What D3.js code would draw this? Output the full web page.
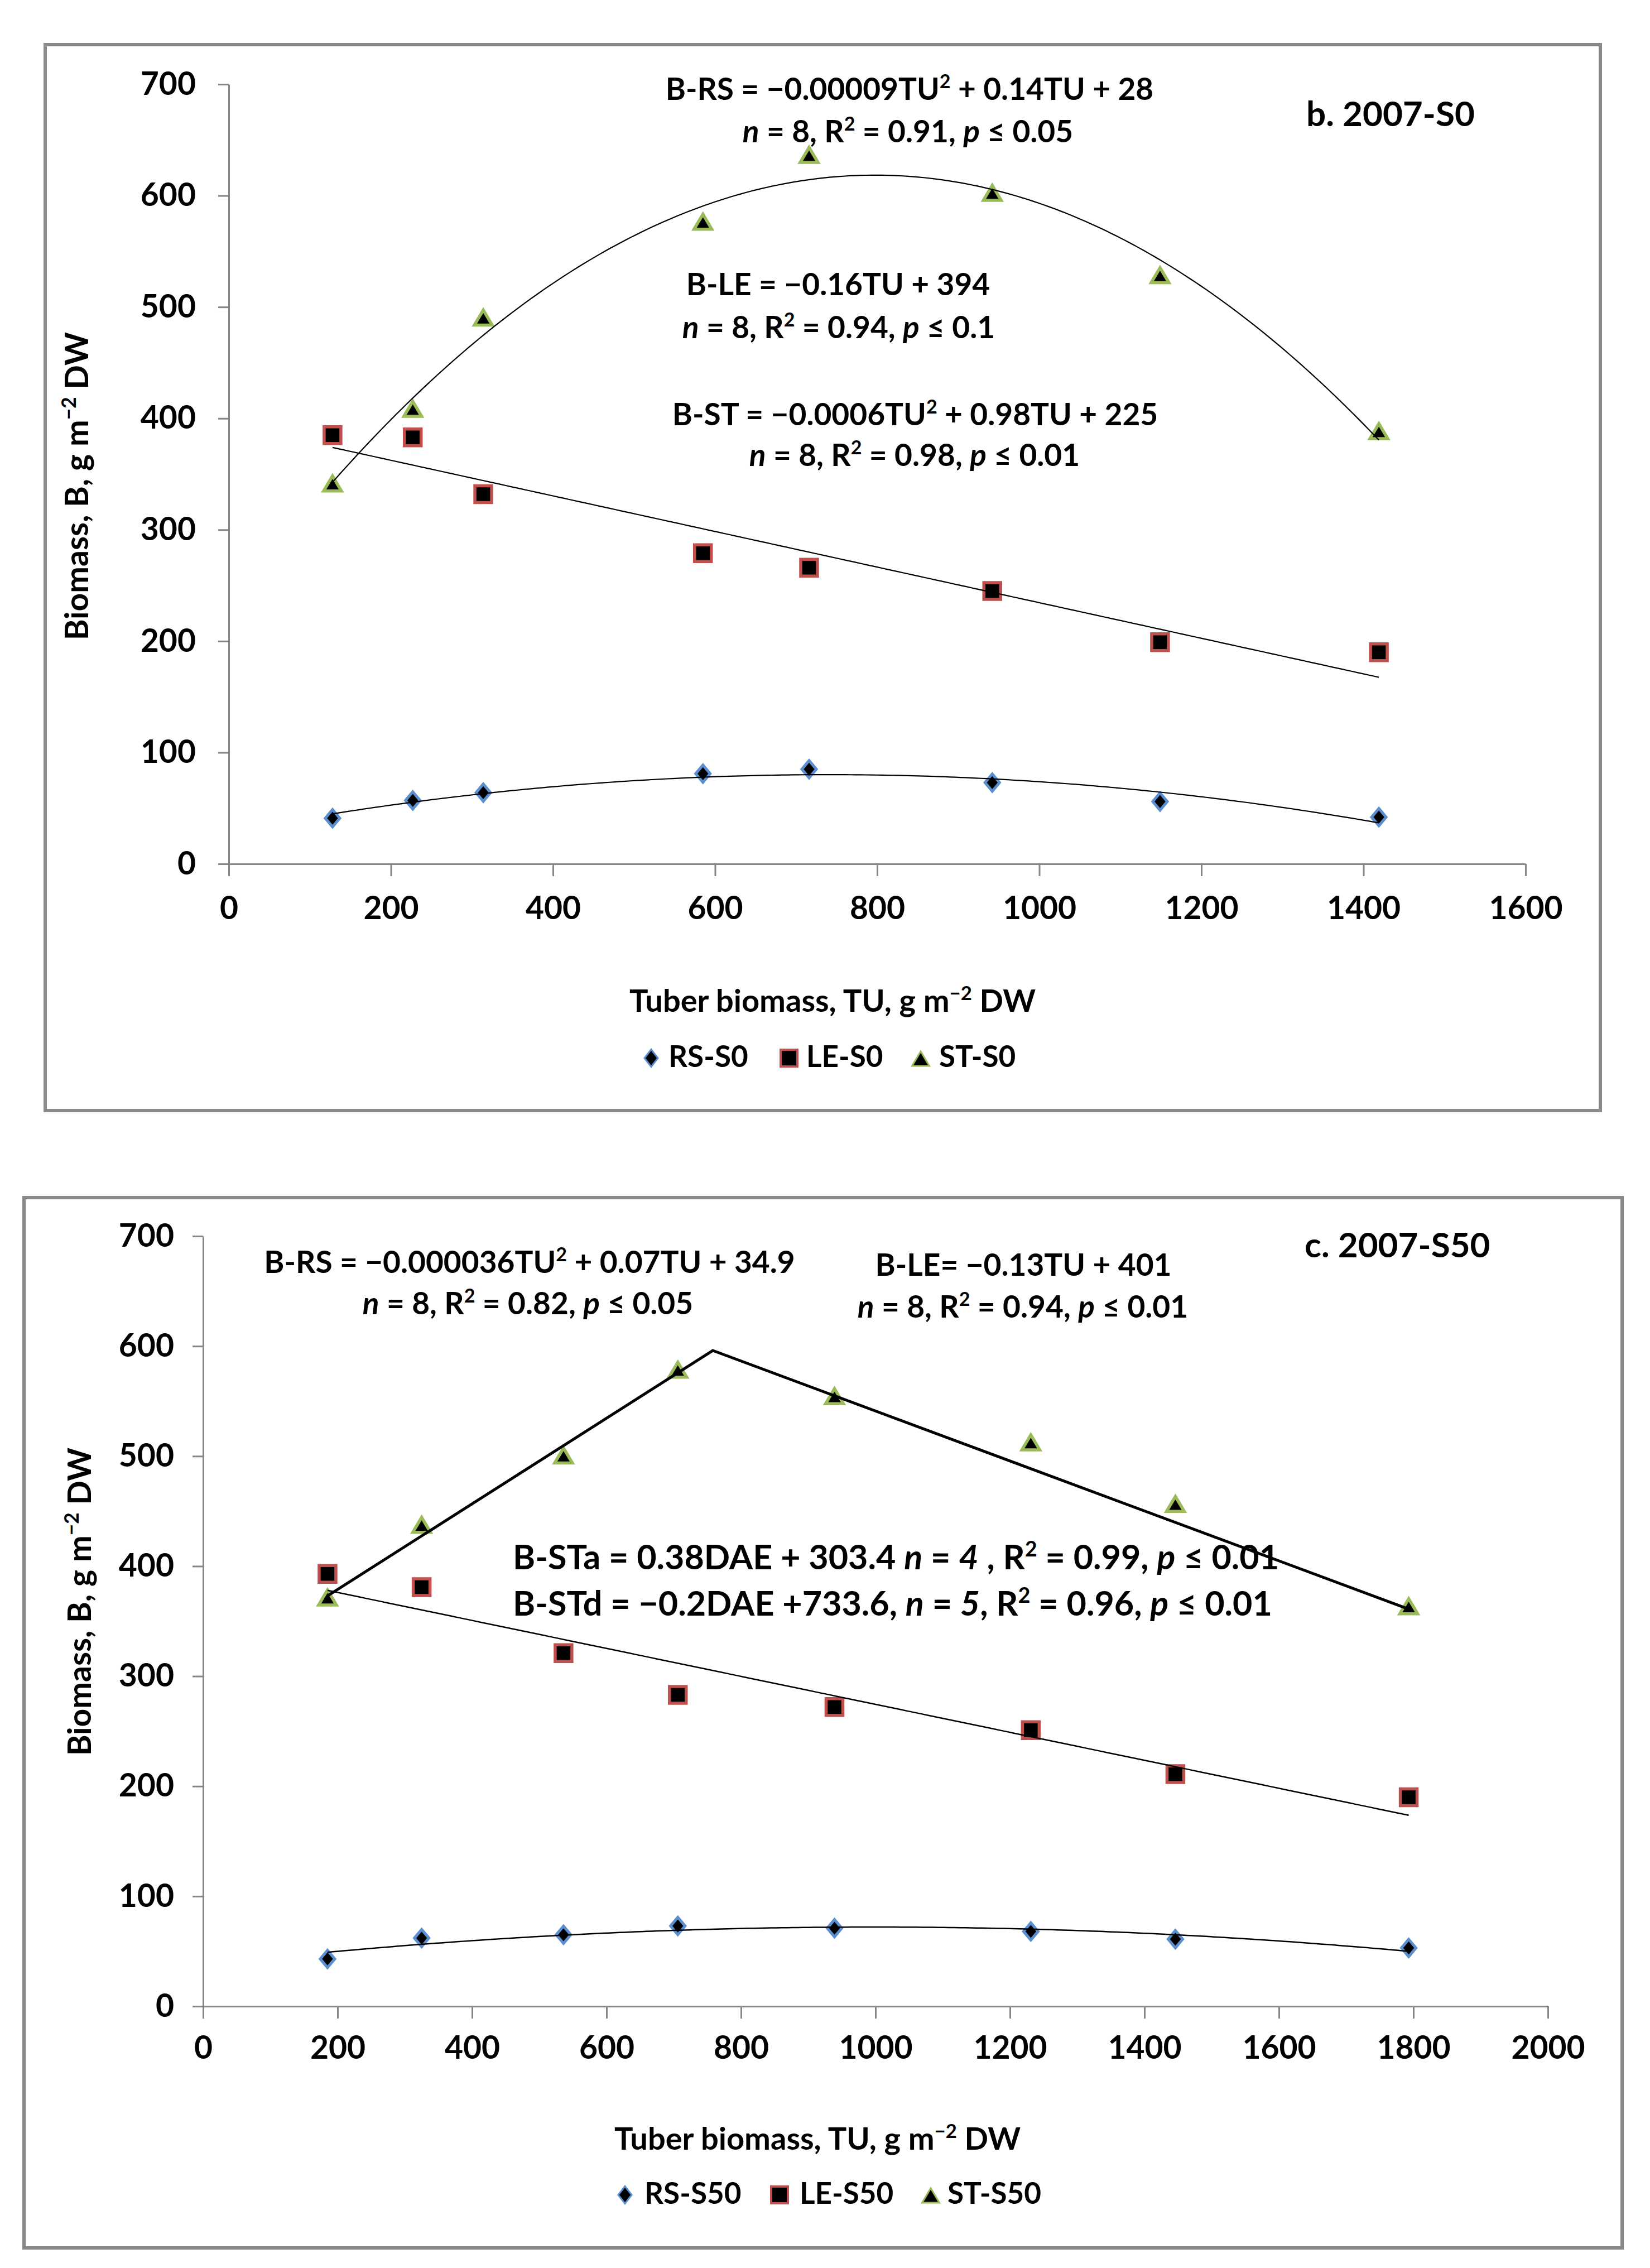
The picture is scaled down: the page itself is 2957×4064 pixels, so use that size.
<!DOCTYPE html>
<html><head><meta charset="utf-8">
<script src="https://cdn.jsdelivr.net/npm/d3@7"></script>
<style>
body{margin:0;background:#fff}
svg{display:block}
text{font-family:Lato,'Liberation Sans',sans-serif;font-weight:bold;fill:#000;white-space:pre}
</style>
</head><body>
<svg id="c" width="2957" height="4064"></svg>
<script>
// ---------------- data ----------------
// panel b. 2007-S0
const tuS0 = [128, 227, 314, 585, 716, 942, 1149, 1419];
const rsS0 = [41, 57, 64, 81, 85, 73, 56, 42];
const leS0 = [385, 383, 332, 279, 266, 245, 199, 190];
const stS0 = [341, 408, 490, 576, 636, 602, 528, 388];
// panel c. 2007-S50
const tuS50 = [185, 325, 536, 706, 939, 1231, 1446, 1793];
const rsS50 = [43, 62, 65, 73, 71, 68, 61, 53];
const leS50 = [393, 381, 321, 283, 272, 251, 211, 190];
const stS50 = [371, 437, 500, 578, 554, 512, 456, 363];
// two-phase (ascending / descending) line for ST-S50
const stS50LineTU = [185, 758, 1793];
const stS50LineB = [373, 596, 361];
// ticks
const yTicks = [0, 100, 200, 300, 400, 500, 600, 700];
const xTicksS0 = [0, 200, 400, 600, 800, 1000, 1200, 1400, 1600];
const xTicksS50 = [0, 200, 400, 600, 800, 1000, 1200, 1400, 1600, 1800, 2000];
// legend labels
const legendS0 = ["RS-S0", "LE-S0", "ST-S0"];
const legendS50 = ["RS-S50", "LE-S50", "ST-S50"];
// texts
const yTitle = "Biomass, B, g m{s:−2} DW";
const xTitle = "Tuber biomass, TU, g m{s:−2} DW";
const panelLabelS0 = "b. 2007-S0";
const panelLabelS50 = "c. 2007-S50";
const eqS0 = [
  "B-RS = −0.00009TU{s:2} + 0.14TU + 28",
  "{i:n} = 8, R{s:2} = 0.91, {i:p} ≤ 0.05",
  "B-LE = −0.16TU + 394",
  "{i:n} = 8, R{s:2} = 0.94, {i:p} ≤ 0.1",
  "B-ST = −0.0006TU{s:2} + 0.98TU + 225",
  "{i:n} = 8, R{s:2} = 0.98, {i:p} ≤ 0.01"
];
const eqS50 = [
  "B-RS = −0.000036TU{s:2} + 0.07TU + 34.9",
  "{i:n} = 8, R{s:2} = 0.82, {i:p} ≤ 0.05",
  "B-LE= −0.13TU + 401",
  "{i:n} = 8, R{s:2} = 0.94, {i:p} ≤ 0.01",
  "B-STa = 0.38DAE + 303.4 {i:n} = {i:4} , R{s:2} = 0.99, {i:p} ≤ 0.01",
  "B-STd = −0.2DAE +733.6, {i:n} = {i:5}, R{s:2} = 0.96, {i:p} ≤ 0.01"
];

// ---------------- helpers ----------------
const svg = d3.select('#c');
svg.append('rect').attr('width', 2957).attr('height', 4064).attr('fill', '#fff');

function parse(str) {
  const parts = []; const re = /\{([is]):([^}]*)\}/g; let last = 0, m;
  while ((m = re.exec(str))) {
    if (m.index > last) parts.push({ t: str.slice(last, m.index) });
    parts.push({ t: m[2], sup: m[1] === 's', i: m[1] === 'i' });
    last = re.lastIndex;
  }
  if (last < str.length) parts.push({ t: str.slice(last) });
  return parts;
}
function rich(g, x, y, str, fs, anchor, transform) {
  const t = g.append('text').attr('x', x).attr('y', y).attr('font-size', fs)
    .attr('text-anchor', anchor || 'middle');
  if (transform) t.attr('transform', transform);
  let shifted = false;
  parse(str).forEach(p => {
    const s = t.append('tspan').text(p.t);
    if (p.sup) { s.attr('dy', -fs * 0.38).attr('font-size', fs * 0.62); shifted = true; }
    else if (shifted) { s.attr('dy', fs * 0.38); shifted = false; }
    if (p.i) s.attr('font-style', 'italic');
  });
  return t;
}
function fit(xs, ys, deg) {
  const n = deg + 1;
  const A = Array.from({ length: n }, () => new Array(n + 1).fill(0));
  xs.forEach((xv, k) => {
    for (let r = 0; r < n; r++) {
      for (let c = 0; c < n; c++) A[r][c] += Math.pow(xv, r + c);
      A[r][n] += ys[k] * Math.pow(xv, r);
    }
  });
  for (let i = 0; i < n; i++) {
    let p = i; for (let r = i + 1; r < n; r++) if (Math.abs(A[r][i]) > Math.abs(A[p][i])) p = r;
    [A[i], A[p]] = [A[p], A[i]];
    for (let r = 0; r < n; r++) if (r !== i) {
      const f = A[r][i] / A[i][i];
      for (let c = i; c <= n; c++) A[r][c] -= f * A[i][c];
    }
  }
  const coef = A.map((row, i) => row[n] / row[i]);
  return xv => coef.reduce((s, c, i) => s + c * Math.pow(xv, i), 0);
}
const markerPath = {
  diamond: (w, h) => `M0,${-h}L${w},0L0,${h}L${-w},0Z`,
  square: (s) => `M${-s},${-s}H${s}V${s}H${-s}Z`,
  triangle: (s) => `M0,${-s * 1.0}L${s * 1.1},${s * 0.85}L${-s * 1.1},${s * 0.85}Z`
};
function marker(g, type, cx, cy) {
  if (type === 'rs') g.append('path').attr('d', markerPath.diamond(13, 15.5))
    .attr('transform', `translate(${cx},${cy})`).attr('fill', '#000').attr('stroke', '#5b8fd0').attr('stroke-width', 5).attr('stroke-linejoin', 'miter');
  if (type === 'le') g.append('path').attr('d', markerPath.square(15))
    .attr('transform', `translate(${cx},${cy})`).attr('fill', '#000').attr('stroke', '#c0504d').attr('stroke-width', 5.5);
  if (type === 'st') g.append('path').attr('d', markerPath.triangle(14.5))
    .attr('transform', `translate(${cx},${cy})`).attr('fill', '#000').attr('stroke', '#9bbb59').attr('stroke-width', 5.5).attr('stroke-linejoin', 'miter');
}

function panel(cfg) {
  const g = svg.append('g');
  const [fx0, fy0, fx1, fy1] = cfg.frame;
  g.append('rect').attr('x', fx0).attr('y', fy0).attr('width', fx1 - fx0).attr('height', fy1 - fy0)
    .attr('fill', '#fff').attr('stroke', '#898989').attr('stroke-width', 6);
  const x = d3.scaleLinear().domain([0, cfg.xMax]).range(cfg.xr);
  const y = d3.scaleLinear().domain([0, 700]).range(cfg.yr);

  const ya = g.append('g').attr('transform', `translate(${cfg.xr[0]},0)`)
    .call(d3.axisLeft(y).tickValues(yTicks).tickFormat(d3.format('d')).tickSize(19).tickSizeOuter(0).tickPadding(cfg.yPad));
  const xa = g.append('g').attr('transform', `translate(0,${cfg.yr[0]})`)
    .call(d3.axisBottom(x).tickValues(cfg.xTicks).tickFormat(d3.format('d')).tickSize(22).tickSizeOuter(0));
  [ya, xa].forEach(a => {
    a.attr('font-family', null).attr('font-size', null);
    a.select('.domain').attr('stroke', '#868686').attr('stroke-width', 3);
    a.selectAll('.tick line').attr('stroke', '#868686').attr('stroke-width', 3);
    a.selectAll('.tick text').attr('font-size', 57).attr('fill', '#000');
  });
  xa.selectAll('.tick text').attr('dy', 0).attr('y', cfg.xLabOff);

  // titles
  rich(g, cfg.xTitle[0], cfg.xTitle[1], xTitle, 56, 'middle');
  rich(g, 0, 0, yTitle, 57, 'middle', `translate(${cfg.yTitle[0]},${cfg.yTitle[1]}) rotate(-90)`);
  g.append('text').attr('x', cfg.label[0]).attr('y', cfg.label[1]).attr('font-size', 62).text(cfg.labelText);

  // equations
  cfg.eqs.forEach((e, i) => rich(g, cfg.eqPos[i][0], cfg.eqPos[i][1], e, cfg.eqPos[i][2], cfg.eqPos[i][3]));

  // markers
  const series = [['rs', cfg.rs], ['le', cfg.le], ['st', cfg.st]];
  series.forEach(([type, vals]) => vals.forEach((v, i) => marker(g, type, x(cfg.tu[i]), y(v))));

  // trendlines
  const line = d3.line().x(d => x(d[0])).y(d => y(d[1]));
  const t0 = d3.min(cfg.tu), t1 = d3.max(cfg.tu);
  const samp = d3.range(0, 201).map(k => t0 + (t1 - t0) * k / 200);
  cfg.fits.forEach(([vals, deg]) => {
    const f = fit(cfg.tu, vals, deg);
    g.append('path').attr('d', line(samp.map(t => [t, f(t)])))
      .attr('fill', 'none').attr('stroke', '#000').attr('stroke-width', cfg.thin);
  });
  if (cfg.extraLine) {
    g.append('path').attr('d', line(cfg.extraLine[0].map((t, i) => [t, cfg.extraLine[1][i]])))
      .attr('fill', 'none').attr('stroke', '#000').attr('stroke-width', 5).attr('stroke-linejoin', 'miter');
  }

  // legend
  const types = ['rs', 'le', 'st'];
  cfg.legend.forEach((lab, i) => {
    const [mx, tx] = cfg.legPos[i];
    const lg = g.append('g');
    if (types[i] === 'rs') lg.append('path').attr('d', markerPath.diamond(12, 15.5)).attr('transform', `translate(${mx},${cfg.legY - 16})`).attr('fill', '#000').attr('stroke', '#5b8fd0').attr('stroke-width', 3);
    if (types[i] === 'le') lg.append('path').attr('d', markerPath.square(15)).attr('transform', `translate(${mx},${cfg.legY - 16})`).attr('fill', '#000').attr('stroke', '#c0504d').attr('stroke-width', 4);
    if (types[i] === 'st') lg.append('path').attr('d', markerPath.triangle(14)).attr('transform', `translate(${mx},${cfg.legY - 14})`).attr('fill', '#000').attr('stroke', '#9bbb59').attr('stroke-width', 3);
    lg.append('text').attr('x', tx).attr('y', cfg.legY).attr('font-size', 53).text(lab);
  });
}

panel({
  frame: [81, 80, 2868, 1990], xr: [410, 2734], yr: [1548, 151], xMax: 1600, xTicks: xTicksS0,
  yPad: 40, xLabOff: 99, xTitle: [1492, 1813], yTitle: [158, 871],
  label: [2341, 226], labelText: panelLabelS0,
  eqs: eqS0,
  eqPos: [[1630, 179, 55], [1627, 255, 55], [1502, 529, 55], [1503, 606, 55], [1640, 762, 55], [1639, 835, 55]],
  tu: tuS0, rs: rsS0, le: leS0, st: stS0,
  fits: [[rsS0, 2], [leS0, 1], [stS0, 2]], thin: 2.2,
  legend: legendS0, legPos: [[1167, 1198], [1414, 1445], [1650, 1683]], legY: 1912
});
panel({
  frame: [43, 2146, 2907, 4028], xr: [364, 2774], yr: [3595, 2215], xMax: 2000, xTicks: xTicksS50,
  yPad: 33, xLabOff: 94, xTitle: [1465, 3852], yTitle: [163, 2870],
  label: [2338, 2253], labelText: panelLabelS50,
  eqs: eqS50,
  eqPos: [[949, 2281, 55], [946, 2355, 55], [1834, 2286, 55], [1833, 2361, 55], [919, 2812, 61, 'start'], [919, 2895, 61, 'start']],
  tu: tuS50, rs: rsS50, le: leS50, st: stS50,
  fits: [[rsS50, 2], [leS50, 1]], thin: 2.5, extraLine: [stS50LineTU, stS50LineB],
  legend: legendS50, legPos: [[1120, 1155], [1397, 1433], [1668, 1698]], legY: 3949
});
</script>
</body></html>
